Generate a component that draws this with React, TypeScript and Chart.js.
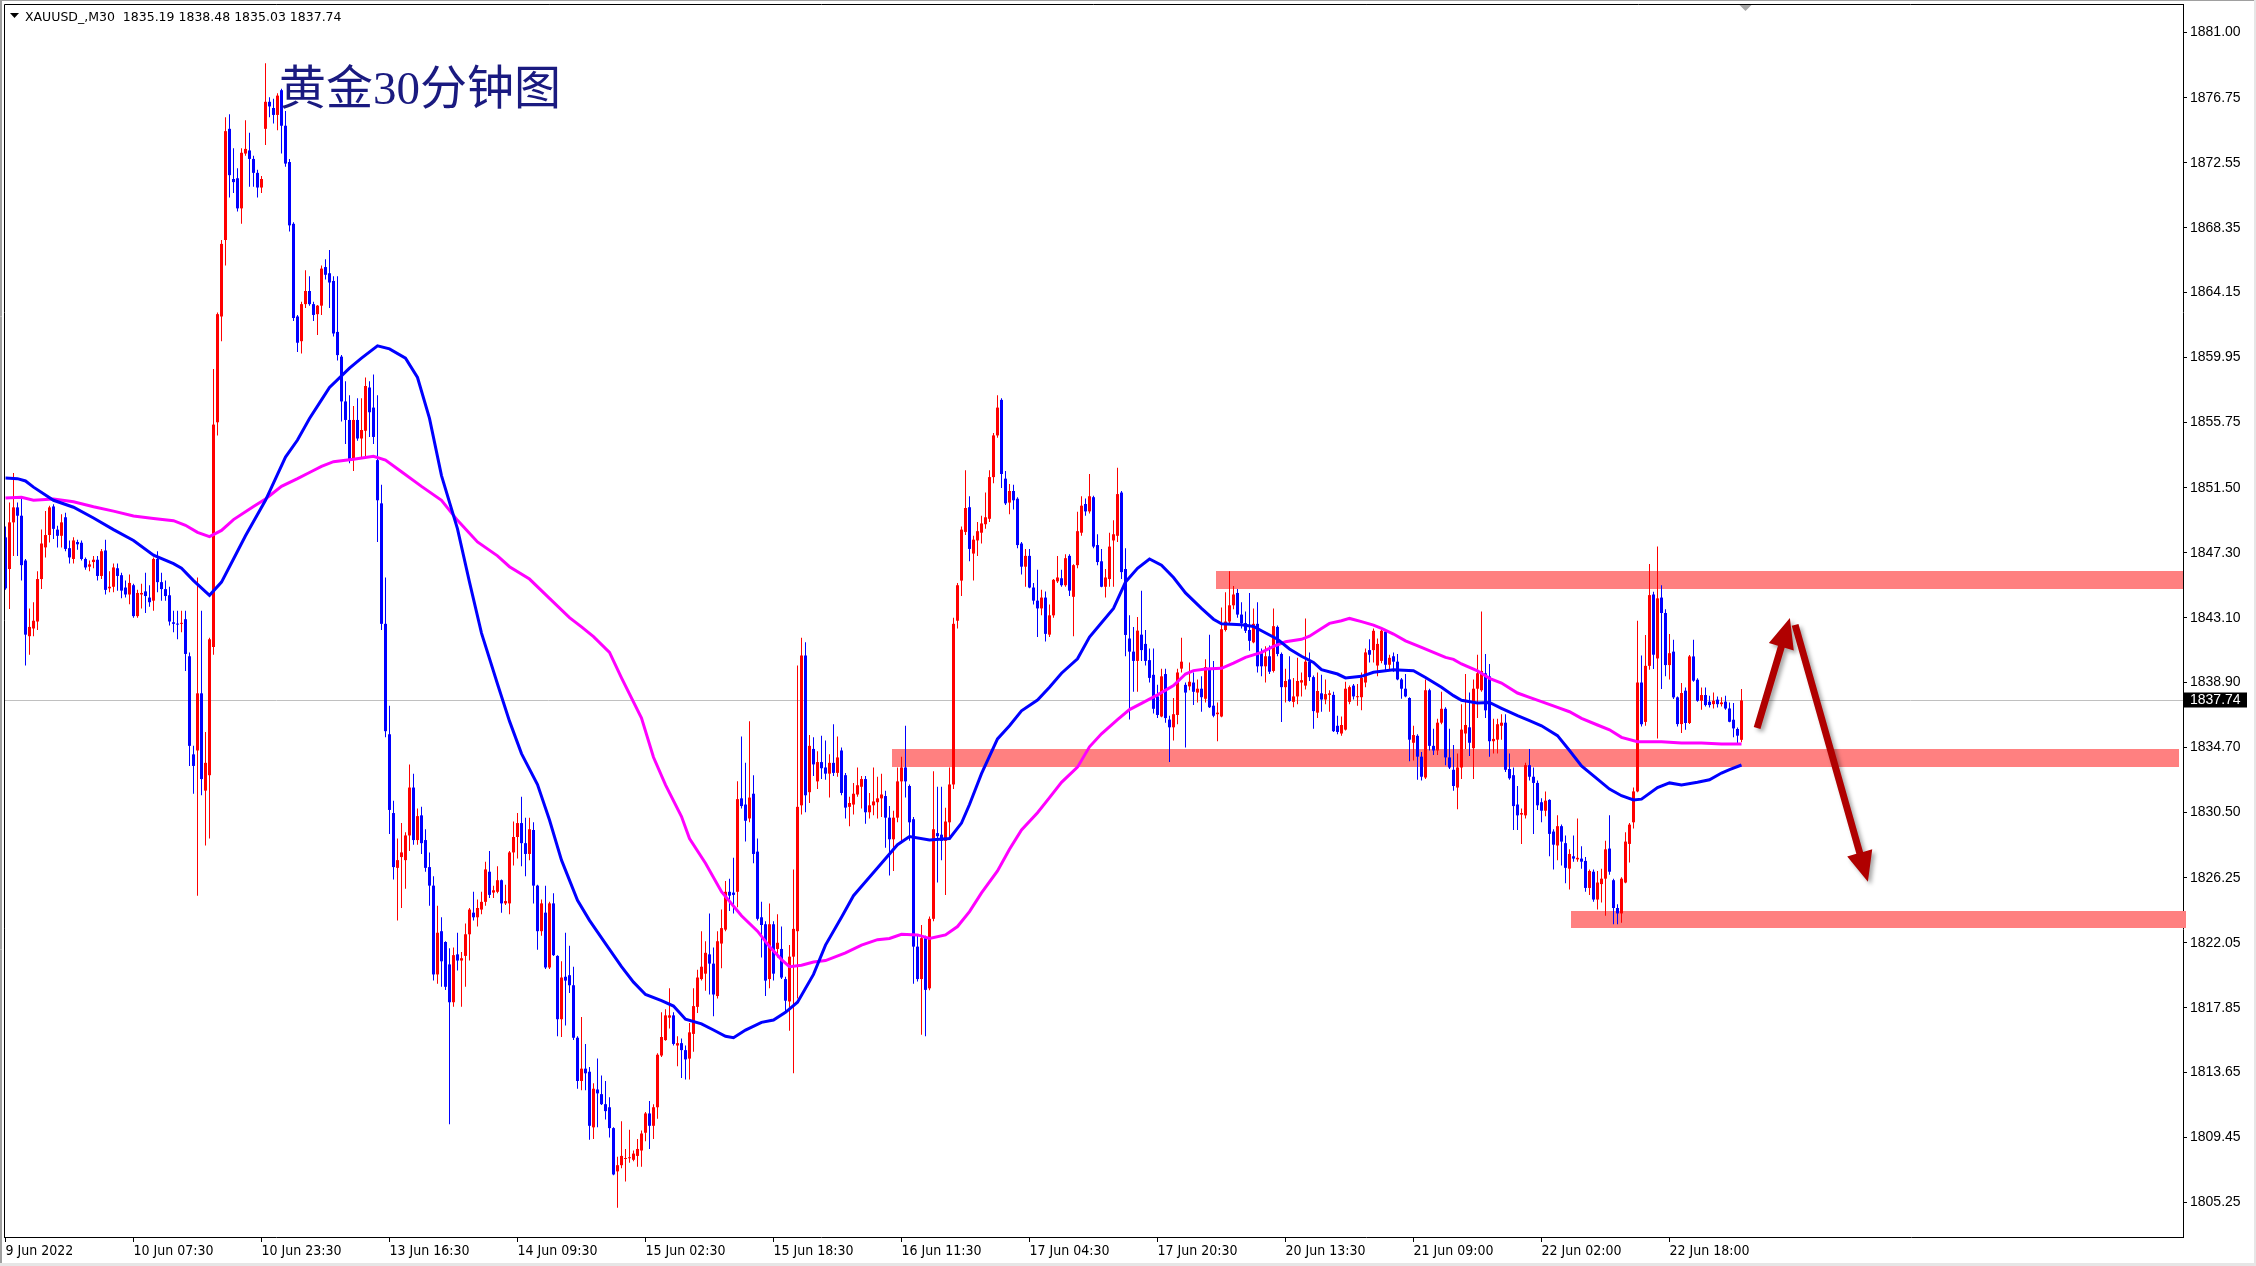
import React, { useEffect, useRef } from 'react';
import { Chart, registerables } from 'chart.js';

Chart.register(...registerables);

const symbolHeader = 'XAUUSD_,M30  1835.19 1838.48 1835.03 1837.74';
const chartTitle = '黄金30分钟图';

const timeLabels = ['9 Jun 2022', '10 Jun 07:30', '10 Jun 23:30', '13 Jun 16:30', '14 Jun 09:30', '15 Jun 02:30', '15 Jun 18:30', '16 Jun 11:30', '17 Jun 04:30', '17 Jun 20:30', '20 Jun 13:30', '21 Jun 09:00', '22 Jun 02:00', '22 Jun 18:00'];
const timeLabelBars = [0, 32, 64, 96, 128, 160, 192, 224, 256, 288, 320, 352, 384, 416];
const priceTicks = [1881.0, 1876.75, 1872.55, 1868.35, 1864.15, 1859.95, 1855.75, 1851.5, 1847.3, 1843.1, 1838.9, 1834.7, 1830.5, 1826.25, 1822.05, 1817.85, 1813.65, 1809.45, 1805.25];
const lastPrice = 1837.74;

// [open, high, low, close] per 30-minute bar
const ohlc: number[][] = [
  [1848.3, 1849.0, 1844.9, 1845.0], [1846.25, 1850.56, 1843.66, 1849.27], [1849.27, 1852.46, 1847.1, 1850.24], [1850.24, 1850.56, 1847.1, 1849.7],
  [1849.7, 1850.9, 1845.5, 1846.5], [1846.8, 1846.9, 1840.0, 1842.0], [1841.9, 1843.7, 1840.7, 1842.5], [1842.4, 1844.1, 1841.9, 1842.9],
  [1842.85, 1846.1, 1842.3, 1845.6], [1845.6, 1848.8, 1844.95, 1847.9], [1847.65, 1850.0, 1847.0, 1848.45], [1848.45, 1850.35, 1847.97, 1850.24],
  [1850.3, 1850.45, 1848.2, 1848.85], [1848.8, 1849.05, 1847.65, 1848.4], [1848.4, 1849.8, 1847.65, 1849.27], [1849.6, 1849.9, 1847.4, 1847.55],
  [1847.6, 1848.1, 1846.6, 1847.0], [1846.9, 1848.3, 1846.6, 1848.1], [1848.0, 1848.15, 1847.5, 1847.85], [1847.95, 1848.1, 1846.8, 1846.9],
  [1846.9, 1847.0, 1846.2, 1846.35], [1846.4, 1846.8, 1846.1, 1846.55], [1846.7, 1847.1, 1846.3, 1846.85], [1846.85, 1847.1, 1845.5, 1845.8],
  [1845.8, 1847.55, 1845.6, 1847.4], [1847.45, 1848.15, 1844.6, 1844.9], [1845.0, 1846.1, 1844.75, 1845.1], [1845.1, 1846.6, 1844.75, 1846.35],
  [1846.3, 1846.6, 1844.85, 1845.8], [1845.85, 1846.0, 1844.35, 1844.85], [1845.05, 1845.5, 1844.4, 1844.6], [1844.6, 1845.9, 1843.97, 1845.35],
  [1845.2, 1845.3, 1843.1, 1843.2], [1843.2, 1844.9, 1843.1, 1844.7], [1844.6, 1845.3, 1843.7, 1844.7], [1844.8, 1846.0, 1843.4, 1844.5],
  [1844.4, 1845.2, 1843.8, 1844.1], [1844.2, 1847.0, 1843.55, 1846.9], [1846.9, 1847.4, 1844.75, 1845.4], [1845.4, 1846.0, 1844.2, 1844.95],
  [1844.95, 1845.5, 1844.2, 1844.5], [1844.55, 1845.1, 1842.6, 1842.85], [1842.8, 1843.55, 1842.15, 1842.7], [1842.7, 1843.55, 1841.7, 1842.65],
  [1842.7, 1843.55, 1842.15, 1842.72], [1843.0, 1843.55, 1839.65, 1840.75], [1840.6, 1840.85, 1833.5, 1834.8], [1834.25, 1834.8, 1831.7, 1833.5],
  [1834.5, 1845.7, 1825.1, 1838.2], [1838.2, 1843.55, 1831.6, 1832.65], [1831.9, 1835.7, 1828.35, 1833.7], [1832.9, 1841.8, 1828.8, 1841.7],
  [1841.2, 1859.2, 1840.7, 1855.6], [1855.75, 1862.85, 1854.9, 1862.75], [1862.6, 1867.55, 1861.0, 1867.3], [1867.55, 1875.5, 1865.9, 1874.6],
  [1874.75, 1875.7, 1870.3, 1871.75], [1871.5, 1873.5, 1870.6, 1871.3], [1871.55, 1872.2, 1869.4, 1869.6], [1869.6, 1873.5, 1868.6, 1873.2],
  [1873.15, 1875.3, 1873.0, 1873.45], [1873.35, 1874.5, 1871.0, 1872.8], [1872.8, 1873.0, 1871.0, 1871.9], [1871.9, 1872.1, 1870.3, 1870.95],
  [1870.95, 1871.7, 1870.6, 1871.5], [1874.75, 1879.0, 1873.7, 1876.5], [1876.5, 1876.8, 1875.5, 1876.2], [1876.1, 1876.7, 1875.1, 1875.65],
  [1875.65, 1877.05, 1874.65, 1876.9], [1877.25, 1877.35, 1873.15, 1874.95], [1874.95, 1875.9, 1872.3, 1872.5], [1872.6, 1872.8, 1868.1, 1868.5],
  [1868.6, 1868.7, 1862.3, 1862.5], [1862.6, 1862.7, 1860.3, 1860.9], [1861.0, 1863.55, 1860.2, 1863.4], [1863.4, 1865.6, 1863.15, 1864.25],
  [1864.25, 1865.2, 1863.3, 1863.4], [1863.4, 1863.55, 1862.3, 1862.7], [1862.75, 1863.35, 1861.4, 1863.3], [1863.3, 1865.9, 1862.7, 1865.7],
  [1865.8, 1866.3, 1865.0, 1865.3], [1865.4, 1866.9, 1863.15, 1864.8], [1864.9, 1865.2, 1861.3, 1861.5], [1861.6, 1865.2, 1859.75, 1860.1],
  [1860.0, 1860.1, 1855.8, 1857.1], [1857.1, 1858.4, 1854.35, 1855.9], [1855.9, 1857.5, 1853.1, 1853.3], [1853.3, 1856.8, 1852.6, 1855.9],
  [1855.9, 1857.3, 1854.55, 1854.7], [1854.7, 1857.3, 1853.45, 1855.25], [1855.2, 1858.65, 1853.45, 1858.1], [1858.0, 1858.4, 1854.8, 1856.4],
  [1856.7, 1858.85, 1854.35, 1854.8], [1853.3, 1857.5, 1848.0, 1850.7], [1850.5, 1851.7, 1842.3, 1842.7], [1842.7, 1845.7, 1835.35, 1835.75],
  [1835.55, 1837.4, 1829.1, 1830.65], [1830.45, 1831.25, 1826.15, 1826.95], [1826.9, 1828.8, 1823.5, 1827.4], [1827.6, 1829.8, 1824.3, 1827.9],
  [1827.4, 1829.2, 1825.55, 1829.0], [1829.0, 1833.6, 1828.0, 1832.1], [1832.1, 1833.0, 1828.4, 1828.7], [1828.7, 1830.75, 1828.4, 1830.25],
  [1830.3, 1830.85, 1827.8, 1828.5], [1828.7, 1829.4, 1826.65, 1826.9], [1826.95, 1827.9, 1824.45, 1825.75], [1825.75, 1826.35, 1819.6, 1820.0],
  [1820.0, 1824.45, 1819.4, 1822.7], [1822.8, 1823.7, 1819.2, 1820.85], [1822.1, 1822.15, 1819.0, 1819.2], [1820.65, 1821.7, 1810.3, 1818.2],
  [1818.2, 1821.75, 1817.9, 1821.25], [1821.3, 1822.7, 1820.25, 1820.9], [1820.9, 1821.45, 1817.9, 1821.05], [1821.2, 1823.3, 1819.2, 1822.6],
  [1822.6, 1824.3, 1820.9, 1824.2], [1824.0, 1825.35, 1823.5, 1823.7], [1823.7, 1824.85, 1823.1, 1824.3], [1824.2, 1825.35, 1823.9, 1824.7],
  [1824.7, 1827.3, 1824.45, 1826.8], [1826.65, 1828.0, 1824.95, 1825.15], [1825.3, 1825.75, 1824.95, 1825.45], [1825.35, 1827.0, 1825.25, 1826.1],
  [1826.1, 1826.15, 1824.0, 1824.6], [1824.6, 1825.8, 1824.5, 1824.75], [1824.6, 1828.0, 1823.9, 1827.9], [1827.9, 1829.9, 1827.05, 1828.9],
  [1828.9, 1830.45, 1827.5, 1829.8], [1829.8, 1831.5, 1827.0, 1828.5], [1828.5, 1830.15, 1826.35, 1827.8], [1827.8, 1830.15, 1827.4, 1829.4],
  [1829.35, 1829.85, 1824.6, 1825.75], [1825.75, 1825.8, 1821.6, 1822.8], [1822.8, 1824.85, 1822.5, 1824.6], [1824.0, 1825.75, 1820.35, 1820.45],
  [1820.45, 1824.7, 1820.35, 1824.6], [1824.6, 1825.25, 1821.2, 1821.25], [1821.2, 1821.25, 1816.0, 1817.1], [1817.1, 1820.85, 1815.95, 1819.8],
  [1819.85, 1822.7, 1816.7, 1819.6], [1819.95, 1821.85, 1818.8, 1819.3], [1819.3, 1820.5, 1815.75, 1815.9], [1815.9, 1816.0, 1812.6, 1813.1],
  [1813.1, 1817.25, 1812.5, 1813.9], [1813.9, 1815.5, 1812.5, 1813.6], [1813.7, 1814.0, 1809.3, 1810.2], [1810.1, 1812.95, 1809.35, 1812.6],
  [1812.55, 1814.55, 1810.1, 1812.3], [1812.25, 1813.45, 1811.55, 1811.6], [1811.6, 1813.1, 1810.6, 1811.15], [1811.4, 1812.05, 1809.45, 1810.05],
  [1810.05, 1810.1, 1807.0, 1807.05], [1807.25, 1808.2, 1804.9, 1807.65], [1807.65, 1810.5, 1807.45, 1808.25], [1808.05, 1808.7, 1806.6, 1808.1],
  [1808.1, 1809.95, 1807.8, 1808.15], [1808.0, 1808.6, 1807.9, 1808.4], [1808.25, 1809.35, 1807.55, 1808.7], [1808.6, 1809.9, 1807.55, 1809.7],
  [1809.75, 1811.1, 1809.2, 1811.0], [1811.0, 1811.8, 1808.7, 1810.2], [1810.2, 1811.6, 1809.35, 1811.4], [1811.4, 1814.9, 1810.65, 1814.8],
  [1814.75, 1817.55, 1814.65, 1815.95], [1815.75, 1817.75, 1815.7, 1817.35], [1817.2, 1819.1, 1816.5, 1817.35], [1817.35, 1817.55, 1815.4, 1815.5],
  [1815.4, 1816.0, 1814.05, 1815.55], [1815.55, 1815.85, 1813.3, 1815.1], [1815.1, 1815.4, 1813.2, 1814.5], [1814.55, 1816.85, 1813.2, 1816.25],
  [1816.15, 1819.1, 1815.0, 1817.95], [1817.9, 1820.3, 1817.5, 1819.8], [1819.7, 1822.8, 1819.6, 1820.5], [1820.05, 1822.15, 1818.95, 1821.4],
  [1821.3, 1823.95, 1818.7, 1820.7], [1820.7, 1821.75, 1817.3, 1818.7], [1818.6, 1822.8, 1818.45, 1822.15], [1822.0, 1824.2, 1820.4, 1823.0],
  [1822.9, 1826.05, 1822.8, 1825.35], [1825.35, 1826.2, 1824.1, 1825.1], [1825.3, 1827.55, 1823.95, 1825.15], [1825.35, 1832.5, 1824.35, 1831.35],
  [1831.4, 1835.4, 1830.75, 1830.9], [1831.0, 1833.7, 1828.6, 1829.95], [1830.1, 1836.4, 1829.85, 1831.45], [1831.7, 1832.9, 1827.2, 1827.8],
  [1827.95, 1828.8, 1823.5, 1823.6], [1823.7, 1824.7, 1821.1, 1823.2], [1823.25, 1823.45, 1818.6, 1819.6], [1819.7, 1824.6, 1819.1, 1823.25],
  [1823.25, 1823.45, 1819.6, 1820.05], [1821.65, 1823.9, 1821.1, 1822.05], [1821.65, 1823.1, 1819.7, 1819.8], [1819.7, 1819.85, 1817.5, 1818.3],
  [1818.25, 1821.9, 1816.35, 1821.15], [1821.15, 1826.8, 1813.6, 1822.95], [1822.8, 1840.0, 1818.45, 1830.85], [1830.95, 1841.8, 1830.35, 1840.65],
  [1840.65, 1841.5, 1830.5, 1831.6], [1831.8, 1835.5, 1831.1, 1834.8], [1834.6, 1835.35, 1832.85, 1833.6], [1832.5, 1834.45, 1832.0, 1833.75],
  [1833.75, 1835.45, 1832.65, 1833.35], [1833.4, 1835.15, 1832.6, 1833.0], [1833.0, 1834.25, 1831.45, 1833.7], [1833.7, 1836.2, 1832.85, 1833.05],
  [1833.05, 1835.4, 1832.8, 1834.05], [1834.5, 1834.7, 1831.6, 1831.75], [1832.9, 1833.05, 1830.1, 1830.8], [1830.85, 1831.5, 1829.6, 1831.1],
  [1831.0, 1832.4, 1830.35, 1831.7], [1831.65, 1833.4, 1831.5, 1832.25], [1832.15, 1832.85, 1830.75, 1832.65], [1832.65, 1832.85, 1829.75, 1830.5],
  [1830.5, 1831.75, 1830.1, 1830.95], [1830.95, 1833.4, 1830.3, 1831.2], [1831.15, 1832.8, 1830.1, 1831.4], [1831.4, 1833.0, 1830.2, 1831.65],
  [1831.55, 1831.9, 1828.2, 1830.15], [1830.15, 1830.9, 1826.4, 1828.75], [1828.75, 1830.6, 1826.7, 1830.15], [1830.15, 1833.4, 1829.85, 1832.5],
  [1832.5, 1834.1, 1828.5, 1833.4], [1833.4, 1836.1, 1831.45, 1832.5], [1832.2, 1832.3, 1828.65, 1829.85], [1830.05, 1830.2, 1819.4, 1821.8],
  [1821.8, 1822.5, 1819.55, 1819.7], [1819.7, 1823.2, 1816.1, 1822.35], [1822.35, 1822.5, 1816.0, 1819.0], [1819.1, 1823.75, 1818.97, 1823.6],
  [1823.6, 1833.15, 1823.45, 1829.4], [1829.15, 1832.15, 1825.95, 1828.95], [1829.05, 1832.15, 1827.4, 1828.65], [1828.65, 1830.8, 1825.15, 1829.9],
  [1829.85, 1833.4, 1828.8, 1832.3], [1832.3, 1843.1, 1832.0, 1842.7], [1842.9, 1845.35, 1842.4, 1845.2], [1845.5, 1849.0, 1844.5, 1848.8],
  [1848.65, 1852.65, 1848.45, 1850.2], [1850.25, 1850.96, 1846.75, 1847.55], [1847.25, 1848.4, 1845.5, 1848.15], [1848.1, 1849.3, 1847.1, 1848.7],
  [1848.6, 1849.7, 1847.9, 1849.2], [1849.15, 1851.2, 1848.85, 1849.6], [1849.5, 1852.65, 1849.3, 1852.2], [1852.2, 1855.05, 1851.8, 1854.9],
  [1854.9, 1857.5, 1854.75, 1856.7], [1857.2, 1857.3, 1851.5, 1852.4], [1852.1, 1852.6, 1850.4, 1850.5], [1850.55, 1851.75, 1849.8, 1851.3],
  [1851.3, 1851.7, 1850.1, 1850.7], [1850.8, 1850.9, 1847.6, 1847.8], [1847.9, 1848.0, 1845.9, 1846.4], [1846.4, 1847.55, 1845.1, 1847.1],
  [1847.1, 1847.55, 1845.0, 1845.05], [1845.05, 1845.35, 1843.95, 1844.2], [1844.2, 1846.2, 1841.85, 1843.7], [1843.7, 1844.9, 1843.25, 1844.4],
  [1844.4, 1844.8, 1841.55, 1842.05], [1842.0, 1843.95, 1841.85, 1843.25], [1843.25, 1845.6, 1843.1, 1845.55], [1845.45, 1847.1, 1845.35, 1845.7],
  [1845.65, 1846.2, 1845.1, 1845.2], [1845.2, 1847.2, 1845.1, 1846.95], [1847.1, 1847.2, 1844.5, 1844.85], [1844.45, 1846.55, 1841.9, 1846.5],
  [1846.5, 1849.95, 1846.3, 1848.7], [1848.6, 1850.96, 1848.4, 1850.35], [1850.46, 1850.82, 1849.7, 1849.98], [1849.98, 1852.4, 1849.84, 1850.96],
  [1850.9, 1851.0, 1847.6, 1847.7], [1847.8, 1848.5, 1846.5, 1846.7], [1846.75, 1847.54, 1845.07, 1845.1], [1845.1, 1846.25, 1844.4, 1845.7],
  [1845.6, 1848.6, 1845.1, 1847.7], [1848.1, 1849.4, 1845.1, 1848.5], [1848.4, 1852.8, 1848.0, 1851.1], [1851.2, 1851.3, 1845.6, 1846.05],
  [1846.25, 1847.6, 1840.6, 1841.98], [1841.75, 1843.25, 1836.5, 1840.9], [1840.9, 1842.5, 1838.3, 1840.3], [1840.3, 1843.15, 1838.3, 1842.26],
  [1842.0, 1844.85, 1840.3, 1841.0], [1841.4, 1842.3, 1840.0, 1840.3], [1840.35, 1841.1, 1838.9, 1839.2], [1839.4, 1841.1, 1836.9, 1837.2],
  [1838.0, 1838.75, 1836.6, 1836.8], [1836.7, 1839.8, 1836.65, 1839.3], [1839.45, 1839.8, 1836.3, 1836.6], [1836.5, 1836.75, 1833.75, 1836.0],
  [1836.0, 1837.9, 1835.15, 1836.85], [1836.8, 1839.8, 1836.2, 1839.55], [1839.8, 1841.8, 1839.55, 1840.25], [1838.75, 1838.9, 1834.7, 1838.25],
  [1838.65, 1840.2, 1838.4, 1838.95], [1838.9, 1839.55, 1837.45, 1838.3], [1838.25, 1839.1, 1837.6, 1838.5], [1838.5, 1839.3, 1837.0, 1837.95],
  [1837.85, 1840.4, 1837.6, 1839.9], [1839.8, 1842.0, 1837.25, 1837.3], [1837.4, 1840.3, 1836.65, 1836.75], [1836.85, 1837.6, 1835.1, 1836.95],
  [1836.7, 1843.75, 1836.65, 1842.35], [1842.3, 1844.75, 1842.2, 1842.85], [1842.85, 1846.1, 1842.7, 1843.9], [1843.9, 1845.15, 1843.65, 1844.6],
  [1844.7, 1844.95, 1843.1, 1843.3], [1843.3, 1844.1, 1842.4, 1842.75], [1842.75, 1843.5, 1842.1, 1842.25], [1842.3, 1844.7, 1840.95, 1841.6],
  [1841.5, 1843.7, 1841.45, 1842.7], [1842.7, 1844.1, 1839.55, 1839.95], [1840.8, 1841.1, 1839.3, 1839.95], [1839.95, 1841.25, 1838.9, 1840.6],
  [1840.6, 1841.3, 1839.45, 1839.6], [1839.65, 1843.7, 1839.55, 1842.55], [1842.5, 1842.6, 1840.6, 1840.75], [1840.75, 1840.85, 1836.35, 1838.6],
  [1838.6, 1839.8, 1837.6, 1839.0], [1839.1, 1840.6, 1837.65, 1837.7], [1837.65, 1839.2, 1837.3, 1838.0], [1838.0, 1840.5, 1837.5, 1839.0],
  [1838.9, 1839.55, 1838.0, 1839.05], [1838.7, 1843.05, 1838.45, 1840.25], [1840.25, 1840.85, 1839.0, 1839.25], [1839.25, 1839.35, 1835.9, 1837.05],
  [1836.95, 1839.55, 1836.6, 1838.35], [1838.2, 1839.4, 1837.0, 1837.8], [1837.8, 1839.1, 1837.5, 1838.15], [1838.1, 1838.4, 1837.0, 1838.2],
  [1838.1, 1838.3, 1835.7, 1835.75], [1836.1, 1836.75, 1835.55, 1835.7], [1835.6, 1836.7, 1835.45, 1836.15], [1835.85, 1838.95, 1835.8, 1838.5],
  [1837.65, 1838.7, 1837.5, 1838.6], [1838.7, 1838.8, 1837.8, 1838.0], [1837.95, 1838.8, 1837.4, 1838.0], [1837.95, 1839.55, 1837.1, 1839.2],
  [1838.9, 1841.1, 1838.6, 1840.85], [1841.0, 1841.7, 1840.2, 1840.7], [1841.0, 1842.4, 1840.2, 1842.25], [1840.0, 1841.75, 1839.3, 1841.4],
  [1840.3, 1842.4, 1840.15, 1842.25], [1842.2, 1842.3, 1839.7, 1840.05], [1840.05, 1840.7, 1839.7, 1840.5], [1840.6, 1840.85, 1839.6, 1840.25],
  [1840.25, 1840.75, 1839.05, 1839.1], [1839.1, 1839.2, 1837.85, 1838.5], [1838.5, 1839.45, 1837.95, 1838.0], [1837.9, 1837.95, 1833.8, 1835.2],
  [1835.0, 1836.1, 1833.85, 1835.5], [1835.45, 1835.55, 1832.6, 1834.1], [1834.1, 1834.4, 1832.55, 1832.8], [1832.75, 1839.1, 1832.65, 1838.4],
  [1838.4, 1838.5, 1834.5, 1834.8], [1834.8, 1835.9, 1834.2, 1834.5], [1834.5, 1836.55, 1834.2, 1836.3], [1836.3, 1838.3, 1836.2, 1837.2],
  [1837.2, 1837.3, 1833.55, 1834.05], [1834.05, 1835.9, 1833.3, 1833.4], [1833.25, 1834.85, 1831.9, 1832.2], [1832.1, 1834.3, 1830.7, 1833.4],
  [1833.4, 1837.5, 1832.65, 1835.85], [1835.6, 1839.45, 1834.6, 1836.15], [1836.0, 1838.25, 1834.15, 1835.0], [1834.65, 1839.1, 1832.65, 1838.5],
  [1838.5, 1840.7, 1836.6, 1839.5], [1838.4, 1843.5, 1838.3, 1839.65], [1839.5, 1840.75, 1836.6, 1837.1], [1839.3, 1840.1, 1834.1, 1835.1],
  [1835.1, 1836.55, 1834.3, 1835.25], [1835.2, 1836.55, 1834.3, 1836.2], [1836.1, 1836.85, 1835.2, 1836.3], [1836.3, 1836.85, 1833.1, 1833.25],
  [1833.3, 1834.3, 1832.6, 1832.7], [1832.9, 1833.4, 1829.35, 1830.9], [1831.0, 1832.2, 1829.35, 1830.3], [1830.35, 1830.75, 1828.45, 1830.45],
  [1830.3, 1833.7, 1830.1, 1833.55], [1833.55, 1834.6, 1832.55, 1832.8], [1832.8, 1833.4, 1829.1, 1832.4], [1832.4, 1832.55, 1830.65, 1830.95],
  [1831.15, 1831.4, 1829.85, 1830.6], [1830.6, 1831.85, 1830.25, 1831.25], [1831.3, 1831.35, 1827.65, 1829.1], [1829.25, 1829.4, 1826.8, 1828.4],
  [1828.35, 1830.3, 1827.4, 1829.6], [1829.6, 1829.7, 1827.05, 1828.6], [1828.5, 1829.0, 1825.9, 1826.9], [1826.85, 1828.1, 1825.5, 1827.8],
  [1827.65, 1829.0, 1827.3, 1827.5], [1827.45, 1830.1, 1827.3, 1827.55], [1827.5, 1828.3, 1826.85, 1827.3], [1827.35, 1827.6, 1825.35, 1825.6],
  [1825.6, 1826.8, 1825.15, 1826.7], [1826.65, 1826.8, 1824.7, 1824.85], [1824.85, 1826.7, 1824.2, 1825.95], [1825.85, 1826.85, 1824.65, 1826.2],
  [1826.2, 1828.65, 1823.8, 1828.1], [1828.15, 1830.3, 1826.45, 1826.65], [1826.1, 1826.2, 1823.25, 1824.3], [1824.3, 1824.55, 1823.25, 1823.95],
  [1823.95, 1826.3, 1823.35, 1826.2], [1825.95, 1829.2, 1825.9, 1828.6], [1828.45, 1829.8, 1827.25, 1829.7], [1829.85, 1832.1, 1829.45, 1831.85],
  [1831.85, 1842.9, 1831.8, 1838.9], [1838.9, 1840.65, 1836.05, 1836.2], [1836.35, 1841.97, 1836.1, 1839.98], [1839.98, 1846.57, 1839.73, 1844.56],
  [1844.6, 1844.77, 1839.77, 1840.7], [1840.46, 1847.71, 1835.28, 1844.35], [1844.4, 1845.2, 1838.48, 1843.4], [1843.4, 1843.65, 1839.3, 1840.03],
  [1840.03, 1842.04, 1839.1, 1840.8], [1840.9, 1841.67, 1837.83, 1837.94], [1837.94, 1838.0, 1836.06, 1836.21], [1836.21, 1838.87, 1835.63, 1838.22],
  [1838.37, 1838.58, 1835.85, 1836.28], [1836.28, 1840.68, 1836.21, 1840.59], [1840.59, 1841.67, 1838.95, 1839.02], [1839.08, 1839.17, 1837.66, 1837.72],
  [1837.72, 1838.58, 1837.14, 1838.09], [1838.09, 1838.58, 1837.35, 1837.44], [1837.66, 1838.05, 1837.29, 1837.44], [1837.5, 1838.26, 1837.22, 1837.72],
  [1837.79, 1838.0, 1837.29, 1837.5], [1837.5, 1837.94, 1837.35, 1837.61], [1837.66, 1838.05, 1837.14, 1837.22], [1837.22, 1837.61, 1836.32, 1836.36],
  [1836.49, 1837.57, 1835.35, 1835.93], [1835.89, 1835.99, 1834.92, 1835.46], [1835.19, 1838.48, 1835.03, 1837.74],
];

// moving averages: [bar, price]
const fastMA: number[][] = [
  [0, 1852.14], [3, 1852.1], [5, 1851.95], [7, 1851.55], [12, 1850.7], [17, 1850.25], [22, 1849.55], [27, 1848.8], [32, 1848.1], [37, 1847.15],
  [42, 1846.6], [44, 1846.3], [47, 1845.5], [51, 1844.55], [54, 1845.4], [57, 1846.9], [60, 1848.4], [65, 1850.7], [70, 1853.5], [73, 1854.6],
  [76, 1856.0], [79, 1857.2], [81, 1858.0], [86, 1859.25], [89, 1859.9], [93, 1860.7], [96, 1860.5], [100, 1859.9], [103, 1858.65], [106, 1856.0],
  [109, 1852.3], [113, 1848.85], [116, 1845.4], [119, 1842.1], [123, 1838.8], [126, 1836.4], [129, 1834.3], [133, 1832.3], [136, 1830.0], [139, 1827.4],
  [143, 1824.8], [146, 1823.5], [150, 1822.0], [154, 1820.5], [157, 1819.5], [160, 1818.7], [164, 1818.3], [167, 1817.95], [170, 1817.1], [174, 1816.8],
  [177, 1816.4], [180, 1816.0], [182, 1815.9], [185, 1816.4], [189, 1816.9], [192, 1817.05], [195, 1817.55], [198, 1818.2], [202, 1820.0], [205, 1821.9],
  [209, 1823.7], [212, 1825.1], [215, 1826.0], [219, 1827.2], [223, 1828.4], [226, 1828.93], [231, 1828.7], [236, 1828.8], [239, 1829.8], [241, 1831.0],
  [244, 1833.0], [248, 1835.25], [251, 1836.1], [254, 1837.07], [258, 1837.77], [261, 1838.6], [264, 1839.5], [268, 1840.44], [271, 1841.84], [274, 1842.77],
  [277, 1843.7], [280, 1845.4], [283, 1846.3], [286, 1846.9], [289, 1846.5], [292, 1845.7], [295, 1844.7], [299, 1843.7], [302, 1843.0], [304, 1842.7],
  [309, 1842.64], [312, 1842.53], [314, 1842.25], [318, 1841.7], [321, 1841.07], [324, 1840.6], [327, 1840.2], [329, 1839.73], [333, 1839.45], [335, 1839.2],
  [339, 1839.3], [342, 1839.56], [347, 1839.73], [352, 1839.67], [355, 1839.23], [359, 1838.6], [362, 1838.05], [364, 1837.75], [368, 1837.57], [371, 1837.61],
  [374, 1837.23], [378, 1836.75], [381, 1836.43], [384, 1836.1], [388, 1835.46], [391, 1834.5], [394, 1833.5], [398, 1832.65], [401, 1832.0], [404, 1831.57],
  [407, 1831.3], [409, 1831.35], [413, 1832.1], [416, 1832.4], [419, 1832.26], [423, 1832.44], [426, 1832.6], [429, 1833.04], [431, 1833.26], [434, 1833.56],
];

const slowMA: number[][] = [
  [0, 1850.84], [4, 1850.9], [7, 1850.7], [12, 1850.78], [17, 1850.6], [22, 1850.28], [27, 1850.0], [32, 1849.68], [37, 1849.52], [42, 1849.38],
  [45, 1849.08], [48, 1848.62], [51, 1848.35], [54, 1848.75], [57, 1849.45], [62, 1850.3], [65, 1850.78], [69, 1851.6], [73, 1852.1], [76, 1852.5],
  [79, 1852.9], [82, 1853.2], [87, 1853.35], [92, 1853.55], [95, 1853.3], [99, 1852.55], [104, 1851.6], [109, 1850.7], [113, 1849.4], [118, 1848.0],
  [123, 1847.1], [126, 1846.4], [131, 1845.6], [136, 1844.35], [141, 1843.1], [144, 1842.5], [147, 1841.87], [151, 1840.85], [154, 1839.2], [159, 1836.6],
  [162, 1834.06], [165, 1832.27], [169, 1830.22], [171, 1828.8], [175, 1827.2], [179, 1825.36], [184, 1823.8], [188, 1822.8], [191, 1821.8], [194, 1820.96],
  [196, 1820.5], [199, 1820.6], [202, 1820.8], [205, 1820.9], [210, 1821.4], [214, 1821.9], [218, 1822.25], [221, 1822.33], [224, 1822.6], [228, 1822.56],
  [231, 1822.33], [235, 1822.56], [238, 1823.1], [241, 1824.07], [244, 1825.28], [248, 1826.7], [251, 1828.1], [254, 1829.35], [258, 1830.47], [261, 1831.45],
  [264, 1832.44], [268, 1833.42], [271, 1834.74], [274, 1835.58], [278, 1836.5], [281, 1837.15], [284, 1837.55], [288, 1838.1], [292, 1838.7], [295, 1839.45],
  [297, 1839.67], [300, 1839.77], [304, 1839.82], [307, 1840.16], [310, 1840.53], [314, 1840.85], [317, 1841.24], [320, 1841.54], [324, 1841.7], [326, 1841.9],
  [329, 1842.4], [331, 1842.73], [334, 1842.9], [336, 1843.05], [339, 1842.84], [342, 1842.62], [344, 1842.4], [347, 1842.04], [350, 1841.6], [354, 1841.17],
  [357, 1840.85], [360, 1840.53], [362, 1840.4], [364, 1840.1], [368, 1839.66], [371, 1839.17], [374, 1838.87], [378, 1838.22], [381, 1837.94], [384, 1837.66],
  [388, 1837.29], [391, 1837.01], [394, 1836.58], [398, 1836.15], [401, 1835.84], [404, 1835.35], [408, 1835.07], [411, 1835.07], [414, 1835.07], [419, 1834.98],
  [424, 1834.98], [429, 1834.92], [434, 1834.92],
];

// support / resistance zones: [fromBar, toBar, lowPrice, highPrice]
const zones: number[][] = [
  [302.6, 544.4, 1844.96, 1846.12],
  [221.6, 543.4, 1833.44, 1834.6],
  [391.4, 545.1, 1823.01, 1824.11],
];

// arrows: [fromBar, fromPrice, toBar, toPrice]
const arrows: number[][] = [
  [437.9, 1835.96, 446.1, 1843.08],
  [447.4, 1842.63, 465.6, 1826.0],
];

const UP = '#ff0000';
const DOWN = '#0000ff';
const AXIS_FONT = "'Liberation Sans', 'DejaVu Sans', sans-serif";
const TIME_FONT = "'Liberation Sans Narrow', 'DejaVu Sans Condensed', 'Liberation Sans', sans-serif";

function drawArrow(ctx: CanvasRenderingContext2D, x0: number, y0: number, x1: number, y1: number) {
  const dx = x1 - x0, dy = y1 - y0;
  const len = Math.hypot(dx, dy);
  const ux = dx / len, uy = dy / len;
  const nx = -uy, ny = ux;
  const headLen = 30, headW = 13, shaftW = 3.5;
  const bx = x1 - ux * headLen, by = y1 - uy * headLen;
  ctx.save();
  ctx.shadowColor = 'rgba(0,0,0,0.35)';
  ctx.shadowBlur = 4;
  ctx.shadowOffsetX = 3;
  ctx.shadowOffsetY = 3;
  ctx.fillStyle = '#b00000';
  ctx.beginPath();
  ctx.moveTo(x0 + nx * shaftW, y0 + ny * shaftW);
  ctx.lineTo(bx + nx * shaftW, by + ny * shaftW);
  ctx.lineTo(bx + nx * headW, by + ny * headW);
  ctx.lineTo(x1, y1);
  ctx.lineTo(bx - nx * headW, by - ny * headW);
  ctx.lineTo(bx - nx * shaftW, by - ny * shaftW);
  ctx.lineTo(x0 - nx * shaftW, y0 - ny * shaftW);
  ctx.closePath();
  ctx.fill();
  ctx.restore();
}

function pix(scale: any, v: number) {
  return Math.round(scale.getPixelForValue(v));
}

const overlayPlugin = {
  id: 'mtOverlay',
  beforeDatasetsDraw(chart: any) {
    const { ctx, chartArea: a, scales } = chart;
    const x = scales.x, y = scales.y;
    ctx.save();
    const py = pix(y, lastPrice) + 0.5;
    ctx.strokeStyle = '#c0c0c0';
    ctx.lineWidth = 1;
    ctx.beginPath();
    ctx.moveTo(a.left, py);
    ctx.lineTo(a.right, py);
    ctx.stroke();
    ctx.fillStyle = '#ff8080';
    zones.forEach(([b0, b1, p0, p1]) => {
      const X0 = pix(x, b0), X1 = pix(x, b1);
      const Y0 = pix(y, p1), Y1 = pix(y, p0);
      ctx.fillRect(X0, Y0, X1 - X0, Y1 - Y0);
    });
    ctx.restore();
  },
  afterDatasetsDraw(chart: any) {
    const { ctx, scales } = chart;
    arrows.forEach(([b0, p0, b1, p1]) => {
      drawArrow(ctx, scales.x.getPixelForValue(b0), scales.y.getPixelForValue(p0), scales.x.getPixelForValue(b1), scales.y.getPixelForValue(p1));
    });
  },
  afterDraw(chart: any) {
    const { ctx, chartArea: a, scales, width, height } = chart;
    ctx.save();
    ctx.strokeStyle = '#000';
    ctx.lineWidth = 1;
    ctx.beginPath();
    ctx.moveTo(a.left + 0.5, a.bottom);
    ctx.lineTo(a.left + 0.5, a.top + 0.5);
    ctx.lineTo(a.right, a.top + 0.5);
    ctx.stroke();
    ctx.strokeStyle = '#a0a0a0';
    ctx.beginPath();
    ctx.moveTo(0, 0.5); ctx.lineTo(width, 0.5);
    ctx.moveTo(0.5, 0); ctx.lineTo(0.5, height);
    ctx.moveTo(1.5, 0); ctx.lineTo(1.5, height);
    ctx.stroke();
    ctx.fillStyle = '#e6e6e6';
    ctx.fillRect(0, height - 3, width, 3);
    ctx.fillRect(width - 2, 0, 2, height);
    const py = pix(scales.y, lastPrice);
    ctx.fillStyle = '#000';
    ctx.fillRect(a.right + 1, py - 7.5, 63, 15);
    ctx.fillStyle = '#fff';
    ctx.font = '14px ' + AXIS_FONT;
    ctx.textBaseline = 'middle';
    ctx.textAlign = 'left';
    ctx.fillText(lastPrice.toFixed(2), a.right + 7, py + 0.5);
    const sx = scales.x.getPixelForValue(435);
    ctx.fillStyle = '#a8a8a8';
    ctx.beginPath();
    ctx.moveTo(sx - 6, a.top + 1);
    ctx.lineTo(sx + 6, a.top + 1);
    ctx.lineTo(sx, a.top + 7);
    ctx.closePath();
    ctx.fill();
    ctx.fillStyle = '#000';
    ctx.beginPath();
    ctx.moveTo(10, 13);
    ctx.lineTo(19, 13);
    ctx.lineTo(14.5, 18);
    ctx.closePath();
    ctx.fill();
    ctx.restore();
  },
};

export default function App() {
  const ref = useRef<HTMLCanvasElement | null>(null);

  useEffect(() => {
    document.body.style.margin = '0';
    const wickData = ohlc.map((c, i) => ({ x: i, y: [c[2], c[1]] }));
    const bodyData = ohlc.map((c, i) => ({ x: i, y: [Math.min(c[0], c[3]), Math.max(c[0], c[3])] }));
    const colors = ohlc.map((c) => (c[3] >= c[0] ? UP : DOWN));
    const chart = new Chart(ref.current as HTMLCanvasElement, {
      type: 'bar',
      data: {
        datasets: [
          {
            type: 'line', label: 'MA fast', data: fastMA.map(([x, y]) => ({ x, y })), borderColor: '#0000ff', borderWidth: 3,
            pointRadius: 0, tension: 0, order: 0,
          } as any,
          {
            type: 'line', label: 'MA slow', data: slowMA.map(([x, y]) => ({ x, y })), borderColor: '#ff00ff', borderWidth: 3,
            pointRadius: 0, tension: 0, order: 1,
          } as any,
          {
            type: 'bar', label: 'body', data: bodyData as any, backgroundColor: colors, barThickness: 3, minBarLength: 1,
            grouped: false, borderWidth: 0, inflateAmount: 0, order: 2,
          } as any,
          {
            type: 'bar', label: 'wick', data: wickData as any, backgroundColor: colors, barThickness: 1,
            grouped: false, borderWidth: 0, inflateAmount: 0, order: 3,
          } as any,
        ],
      },
      options: {
        responsive: false,
        animation: false,
        devicePixelRatio: 1,
        events: [],
        layout: { padding: { left: 4, top: 4, right: 0, bottom: 0 } },
        plugins: { legend: { display: false }, tooltip: { enabled: false }, title: { display: false } },
        scales: {
          x: {
            type: 'linear',
            offset: false,
            min: -0.375,
            max: 544.375,
            afterBuildTicks: (s: any) => { s.ticks = timeLabelBars.map((v) => ({ value: v })); },
            afterFit: (s: any) => { s.height = 29; s.paddingLeft = 0; s.paddingRight = 0; },
            ticks: {
              autoSkip: false, maxRotation: 0, minRotation: 0, align: 'start', padding: 1, color: '#000',
              font: { family: TIME_FONT, size: 14 },
              callback: (_v: any, i: number) => timeLabels[i],
            },
            grid: { offset: false, drawOnChartArea: false, drawTicks: true, tickLength: 5, color: '#000' },
            border: { display: true, color: '#000', width: 1 },
          },
          y: {
            type: 'linear',
            position: 'right',
            min: 1803.0,
            max: 1882.832,
            afterBuildTicks: (s: any) => { s.ticks = priceTicks.map((v) => ({ value: v })); },
            afterFit: (s: any) => { s.width = 73; s.paddingTop = 0; s.paddingBottom = 0; },
            ticks: {
              padding: 3, color: '#000', font: { family: AXIS_FONT, size: 14 },
              callback: (v: any) => Number(v).toFixed(2),
            },
            grid: { drawOnChartArea: false, drawTicks: true, tickLength: 4, color: '#000' },
            border: { display: true, color: '#000', width: 1 },
          },
        } as any,
      },
      plugins: [overlayPlugin],
    } as any);
    return () => chart.destroy();
  }, []);

  return (
    <div style={{ position: 'fixed', left: 0, top: 0, width: 2256, height: 1266, background: '#fff', overflow: 'hidden' }}>
      <canvas ref={ref} width={2256} height={1266} style={{ position: 'absolute', left: 0, top: 0, width: 2256, height: 1266 }} />
      <div style={{ position: 'absolute', left: 25, top: 9, fontFamily: "'DejaVu Sans', sans-serif", fontSize: 12.5, lineHeight: '15px', color: '#000', whiteSpace: 'pre' }}>
        {symbolHeader}
      </div>
      <div style={{ position: 'absolute', left: 279, top: 65, fontFamily: "'Liberation Serif', 'Noto Sans CJK SC', serif", fontSize: 47, lineHeight: '47px', color: '#1a1a80', whiteSpace: 'pre' }}>
        {chartTitle}
      </div>
    </div>
  );
}
